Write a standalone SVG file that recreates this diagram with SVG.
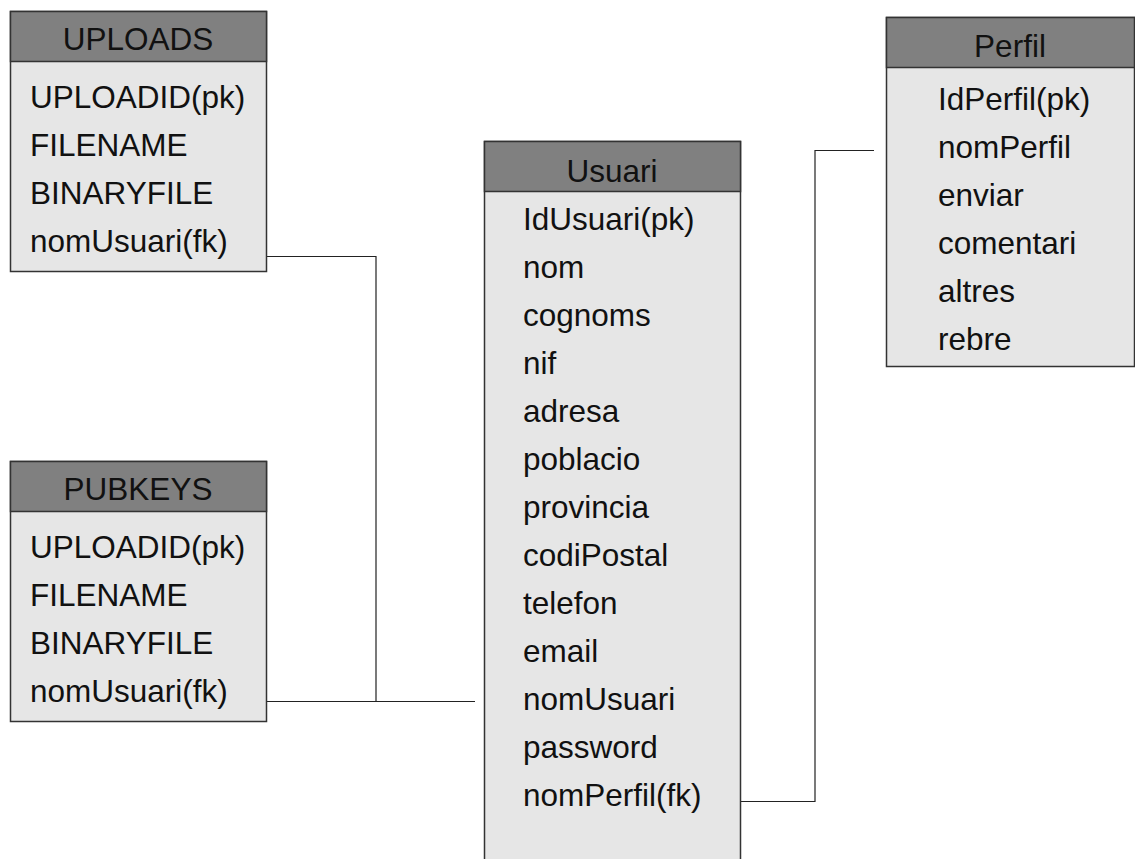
<svg xmlns="http://www.w3.org/2000/svg" width="1135" height="859" viewBox="0 0 1135 859">
<style>
.body{fill:#e6e6e6;stroke:#333;stroke-width:1.5}
.head{fill:#808080;stroke:#333;stroke-width:1.5}
text{font-family:"Liberation Sans",Arial,sans-serif;font-size:31.5px;fill:#111}
.h{text-anchor:middle}
.conn{fill:none;stroke:#222;stroke-width:1.2}
</style>
<rect width="1135" height="859" fill="#fff"/>
<g id="connectors">
<polyline class="conn" points="266,256.5 376,256.5 376,701.5"/>
<polyline class="conn" points="266,701.5 475,701.5"/>
<polyline class="conn" points="741,801.5 815,801.5 815,150.5 874,150.5"/>
</g>
<g id="uploads">
<rect class="body" x="10.5" y="11.5" width="256" height="260"/>
<rect class="head" x="10.5" y="11.5" width="256" height="50"/>
<text class="h" x="138" y="50">UPLOADS</text>
<text x="30" y="108">UPLOADID(pk)</text>
<text x="30" y="156">FILENAME</text>
<text x="30" y="204">BINARYFILE</text>
<text x="30" y="252">nomUsuari(fk)</text>
</g>
<g id="pubkeys">
<rect class="body" x="10.5" y="461.5" width="256" height="260"/>
<rect class="head" x="10.5" y="461.5" width="256" height="50"/>
<text class="h" x="138" y="500">PUBKEYS</text>
<text x="30" y="558">UPLOADID(pk)</text>
<text x="30" y="606">FILENAME</text>
<text x="30" y="654">BINARYFILE</text>
<text x="30" y="702">nomUsuari(fk)</text>
</g>
<g id="usuari">
<rect class="body" x="484.5" y="141.5" width="256" height="740"/>
<rect class="head" x="484.5" y="141.5" width="256" height="50"/>
<text class="h" x="612" y="182">Usuari</text>
<text x="523" y="230">IdUsuari(pk)</text>
<text x="523" y="278">nom</text>
<text x="523" y="326">cognoms</text>
<text x="523" y="374">nif</text>
<text x="523" y="422">adresa</text>
<text x="523" y="470">poblacio</text>
<text x="523" y="518">provincia</text>
<text x="523" y="566">codiPostal</text>
<text x="523" y="614">telefon</text>
<text x="523" y="662">email</text>
<text x="523" y="710">nomUsuari</text>
<text x="523" y="758">password</text>
<text x="523" y="806">nomPerfil(fk)</text>
</g>
<g id="perfil">
<rect class="body" x="886.5" y="17.5" width="248" height="349"/>
<rect class="head" x="886.5" y="17.5" width="248" height="50"/>
<text class="h" x="1010" y="57">Perfil</text>
<text x="938" y="110">IdPerfil(pk)</text>
<text x="938" y="158">nomPerfil</text>
<text x="938" y="206">enviar</text>
<text x="938" y="254">comentari</text>
<text x="938" y="302">altres</text>
<text x="938" y="350">rebre</text>
</g>
</svg>
